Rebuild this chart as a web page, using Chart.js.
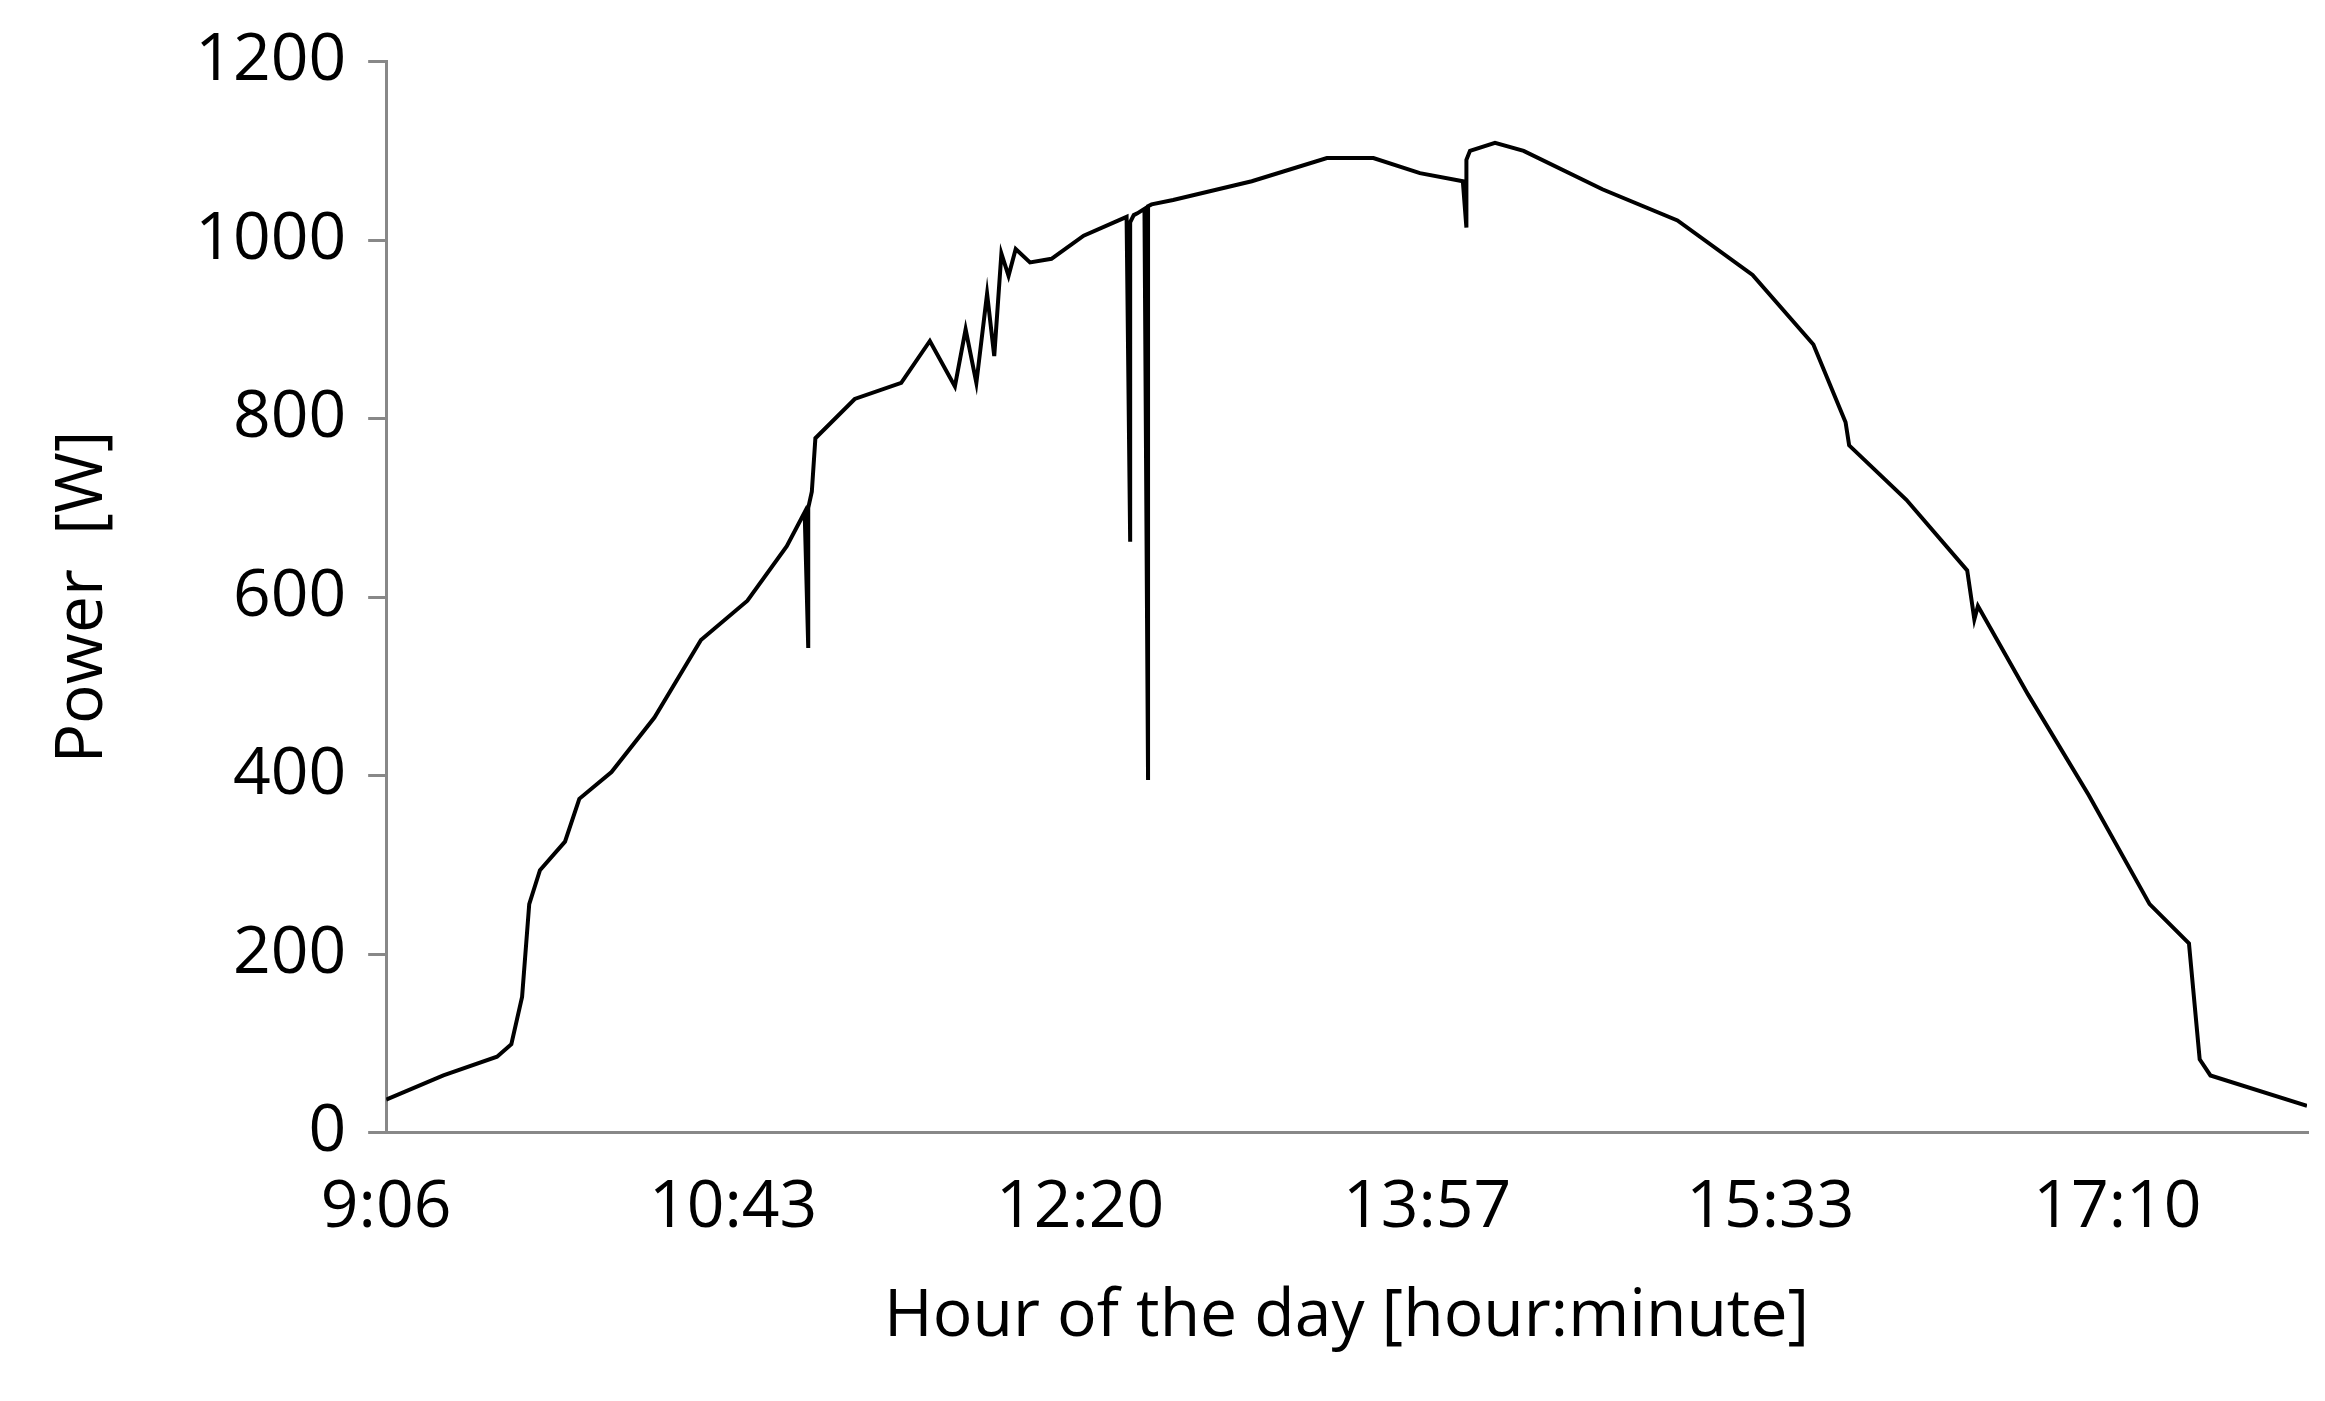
<!DOCTYPE html>
<html><head><meta charset="utf-8">
<script src="https://cdn.jsdelivr.net/npm/chart.js@4"></script>
<style>html,body{margin:0;background:#fff}#wrap{width:2325px;height:1401px}</style>
</head><body><div id="wrap"><canvas id="c"></canvas></div>
<script>
// minutes after 9:06
const minutes = [0,16,31,35,38,40,43,50,54,63,75,88,101,112,117,118,118,119,120,131,144,152,159,162,165,168,170,172,174,176,180,186,195,207,208,208,209,210,212,213,213,214,220,242,263,276,289,301,302,302,303,310,318,340,361,382,399,408,409,425,442,444,445,459,476,493,504,507,510,537];
const power = [37,64,85,99,152,256,294,326,374,404,465,552,596,657,695,543,700,718,778,822,840,887,836,900,840,940,870,985,960,990,975,979,1005,1026,662,1020,1028,1030,1035,395,1038,1040,1045,1066,1092,1092,1075,1066,1014,1090,1100,1109,1100,1057,1022,961,883,796,770,709,630,575,590,491,378,256,212,82,64,30];
const tickMinutes = [0,97,194,291,387,484];
const tickLabels = ['9:06','10:43','12:20','13:57','15:33','17:10'];

const points = minutes.map((m, i) => ({x: m, y: power[i]}));
const font = {family: 'Open Sans', size: 66};

new Chart(document.getElementById('c'), {
    type: 'line',
    data: { datasets: [{ data: points, borderColor: '#000', borderWidth: 4, pointRadius: 0, tension: 0 }] },
    options: {
        responsive: true,
        maintainAspectRatio: false,
        animation: false,
        layout: { padding: { top: 55, right: 18, left: 40, bottom: 40 } },
        plugins: { legend: { display: false }, tooltip: { enabled: false } },
        scales: {
            x: {
                type: 'linear', min: 0, max: 537,
                afterBuildTicks: axis => { axis.ticks = tickMinutes.map(v => ({value: v})); },
                grid: { display: false, drawOnChartArea: false, tickLength: 20, color: '#888', lineWidth: 3 },
                border: { color: '#888', width: 3 },
                ticks: { color: '#000', font: font, padding: 16, maxRotation: 0, autoSkip: false,
                    callback: (v) => tickLabels[tickMinutes.indexOf(v)] },
                title: { display: true, text: 'Hour of the day [hour:minute]', color: '#000', font: font, padding: {top: 14} }
            },
            y: {
                min: 0, max: 1200,
                afterBuildTicks: axis => { axis.ticks = [0,200,400,600,800,1000,1200].map(v => ({value: v})); },
                ticks: { color: '#000', font: font, padding: 22, callback: v => String(v) },
                grid: { display: true, drawOnChartArea: false, tickLength: 18, color: '#888', lineWidth: 3 },
                border: { color: '#888', width: 3 },
                title: { display: true, text: 'Power  [W]', color: '#000', font: font, padding: {bottom: 50} }
            }
        }
    }
});
</script></body></html>
